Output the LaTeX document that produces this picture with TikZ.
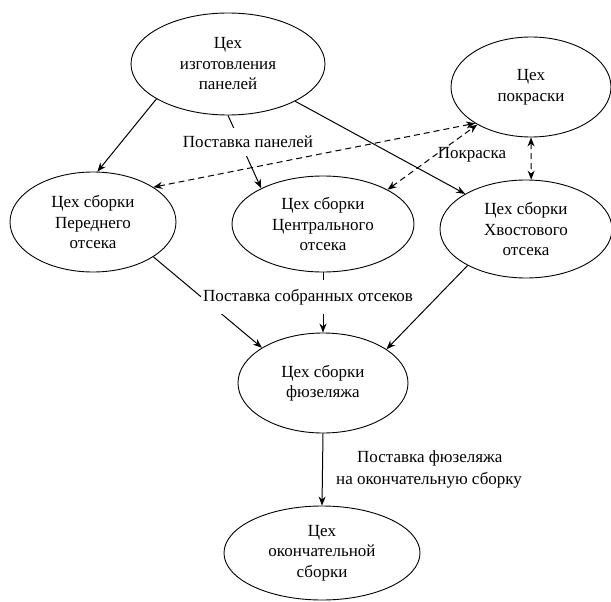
\documentclass[tikz,border=0pt]{standalone}
\usepackage{fontspec}
\setmainfont{Liberation Serif}
\usetikzlibrary{shapes.geometric,arrows.meta}
\begin{document}
\begin{tikzpicture}[x=1pt,y=-1pt,
  shop/.style={draw, ellipse, line width=0.9pt, inner sep=0pt, align=center, font=\fontsize{17}{20.5}\selectfont},
  flow/.style={line width=1pt, -{Stealth[length=9pt,width=7pt]}},
  paint/.style={line width=1pt, dash pattern=on 6pt off 4pt, {Stealth[length=9pt,width=7pt]}-{Stealth[length=9pt,width=7pt]}},
  lbl/.style={fill=white, inner xsep=2pt, font=\fontsize{17}{20.5}\selectfont},
  plainlbl/.style={inner sep=1pt, font=\fontsize{17}{20.5}\selectfont}]
\useasboundingbox (0,0) rectangle (611,602);

\node[shop, minimum width=194pt, minimum height=102pt] (A) at (228,64) {Цех\\изготовления\\панелей};
\node[shop, minimum width=160pt, minimum height=100pt] (P) at (531,87) {Цех\\покраски};
\node[shop, minimum width=166pt, minimum height=100pt] (F) at (93,222) {Цех сборки\\Переднего\\отсека};
\node[shop, minimum width=182pt, minimum height=96pt] (C) at (323,224) {Цех сборки\\Центрального\\отсека};
\node[shop, minimum width=172pt, minimum height=98pt] (X) at (526,229) {Цех сборки\\Хвостового\\отсека};
\node[shop, minimum width=170pt, minimum height=100pt] (U) at (323,383) {Цех сборки\\фюзеляжа};
\node[shop, minimum width=196pt, minimum height=94pt] (B) at (322,553) {Цех\\окончательной\\сборки};

% supply of panels
\draw[flow] (A.206) -- (F.85.5);
\draw[flow] (A.270) -- (C.150.7);
\draw[flow] (A.331) -- (X.150.6);
\node[lbl, inner ysep=8pt] (l1) at (248,142) {Поставка панелей};

% painting
\draw[paint] (F.30) -- (P.213.7);
\draw[paint] (C.28.2) -- (P.215.5);
\draw[paint] (P.270) -- (X.84);
\node[plainlbl] (l2) at (472,155) {Покраска};

% assembled sections
\draw[flow] (F.330.6) -- (U.150.2);
\draw[flow] (C.270) -- (U.90);
\draw[flow] (X.212.8) -- (U.28.7);
\node[lbl, inner ysep=9pt] (l3) at (308,297) {Поставка собранных отсеков};

% fuselage delivery
\draw[flow] (U.270) -- (B.90);
\node[plainlbl, anchor=west] (l4) at (356,458) {Поставка фюзеляжа};
\node[plainlbl, anchor=west] (l5) at (335,480) {на окончательную сборку};
\end{tikzpicture}
\end{document}
